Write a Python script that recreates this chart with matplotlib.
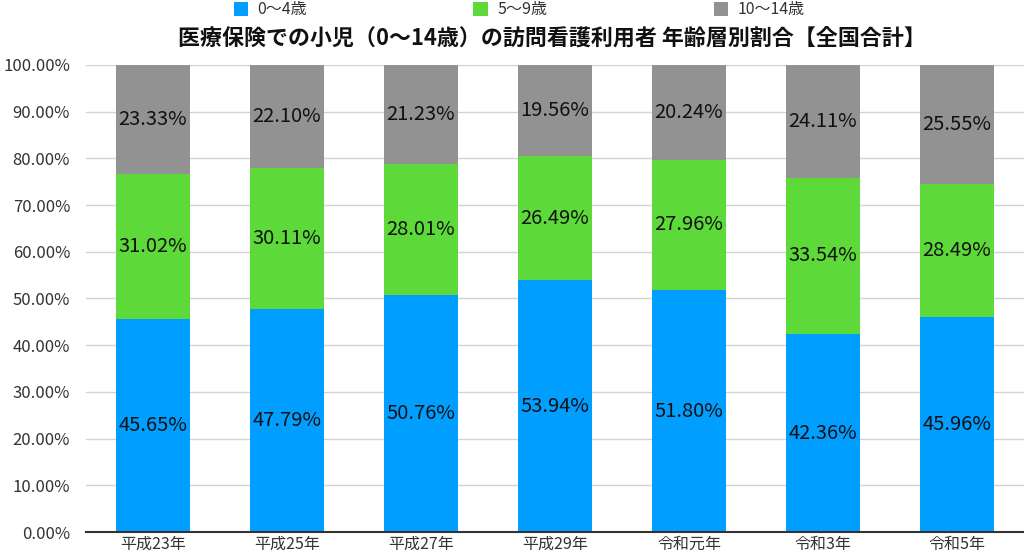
import matplotlib
matplotlib.use("Agg")
import matplotlib.pyplot as plt
from matplotlib.ticker import FuncFormatter

plt.rcParams['font.family'] = ['Noto Sans CJK JP', 'DejaVu Sans']

categories = ["平成23年", "平成25年", "平成27年", "平成29年", "令和元年", "令和3年", "令和5年"]
series_names = ["0〜4歳", "5〜9歳", "10〜14歳"]
age_0_4 = [45.65, 47.79, 50.76, 53.94, 51.80, 42.36, 45.96]
age_5_9 = [31.02, 30.11, 28.01, 26.49, 27.96, 33.54, 28.49]
age_10_14 = [23.33, 22.10, 21.23, 19.56, 20.24, 24.11, 25.55]
colors = ["#009FFF", "#5DD93A", "#929292"]
title = "医療保険での小児（0〜14歳）の訪問看護利用者 年齢層別割合【全国合計】"

fig = plt.figure(figsize=(10.24, 5.54), dpi=100)
ax = fig.add_axes([0.084, 0.0397, 0.916, 0.843])

x = list(range(len(categories)))
width = 0.55
bottom = [0.0] * len(categories)
handles = []
for vals, col, name in zip([age_0_4, age_5_9, age_10_14], colors, series_names):
    fr = [v / 100 for v in vals]
    bars = ax.bar(x, fr, width, bottom=bottom, color=col, label=name, zorder=3)
    handles.append(bars)
    for xi, b, v in zip(x, bottom, vals):
        ax.text(xi, b + v / 200, f"{v:.2f}%", ha="center", va="center",
                fontsize=14.5, color="#111111", zorder=4)
    bottom = [b + f for b, f in zip(bottom, fr)]

ax.set_xlim(-0.5, 6.5)
ax.set_ylim(0, 1.0)
ax.set_yticks([i / 10 for i in range(11)])
ax.yaxis.set_major_formatter(FuncFormatter(lambda v, p: f"{v*100:.2f}%"))
ax.set_xticks(x)
ax.set_xticklabels(categories)
ax.tick_params(axis="both", length=0, labelsize=12, colors="#333333")
ax.tick_params(axis="x", labelsize=11.5, pad=3)
ax.tick_params(axis="y", pad=11.5)
ax.grid(axis="y", color="#d4d4d4", linewidth=1, zorder=0)
for s in ["top", "right", "left"]:
    ax.spines[s].set_visible(False)
ax.spines["bottom"].set_color("#333333")
ax.spines["bottom"].set_linewidth(1.5)
ax.spines["bottom"].set_zorder(5)

fig.text(0.539, 0.931, title, ha="center", va="center", fontsize=15.8, fontweight="bold", color="#111111")
fig.legend(handles=handles, labels=series_names, loc="center", bbox_to_anchor=(0.507, 0.982),
           ncol=3, frameon=False, fontsize=11.5, handlelength=0.9, handleheight=0.9,
           columnspacing=10.4, handletextpad=0.6, labelcolor="#333333",
           borderpad=0, borderaxespad=0)

fig.savefig("out.png", dpi=100)
